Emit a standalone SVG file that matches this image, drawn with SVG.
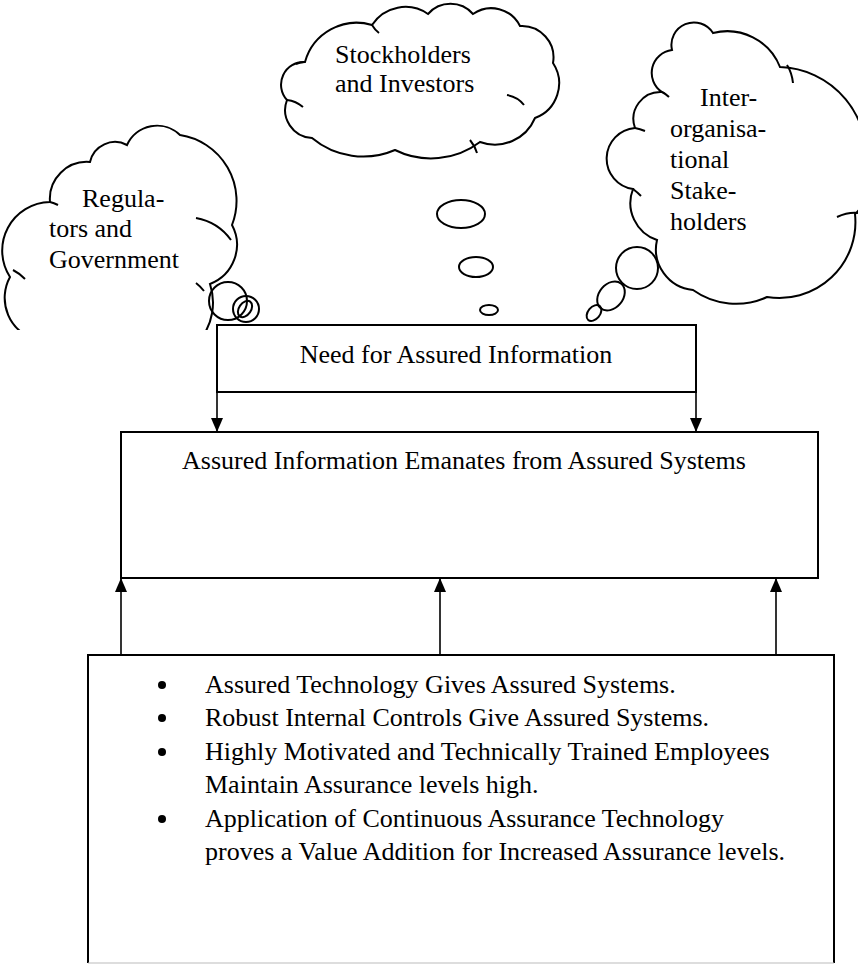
<svg xmlns="http://www.w3.org/2000/svg" width="858" height="965" viewBox="0 0 858 965">
<style>
text{font-family:"Liberation Serif","Times New Roman",serif;font-size:26px;fill:#000}
.cl{fill:none;stroke:#000;stroke-width:2}
.bx{fill:#fff;stroke:#000;stroke-width:2}
.ln{stroke:#000;stroke-width:1.6;fill:none}
</style>
<defs>
<marker id="ah" markerWidth="14" markerHeight="12" refX="14" refY="6" orient="auto" markerUnits="userSpaceOnUse" viewBox="0 0 14 12">
<path d="M0,0 L14,6 L0,12 Z" fill="#000"/>
</marker>
<clipPath id="clipL"><rect x="0" y="0" width="858" height="330"/></clipPath>
</defs>
<rect width="858" height="965" fill="#fff"/>

<g id="cloud-regulators">
<path class="cl" clip-path="url(#clipL)" d="M50,202 A37,37 0 0 1 90,162 A25.6,25.6 0 0 1 127,145 A33,33 0 0 1 180,135 A66.6,66.6 0 0 1 232,225 A42,42 0 0 1 210,284 A60,60 0 0 1 200,340 L37,340 A43.6,43.6 0 0 1 10,277 A48.6,48.6 0 0 1 50,202 Z"/>
<path class="cl" d="M50,202 Q54,203 58,205 M196,218 Q218,222 231,240 M13,270 Q19,273 25,279 M196,283 Q200,286 204,291"/>
<ellipse class="cl" cx="228" cy="301" rx="19" ry="19"/>
<ellipse class="cl" cx="246" cy="309" rx="13" ry="13"/>
<ellipse class="cl" cx="245" cy="309" rx="6" ry="9" transform="rotate(35 245 309)"/>
<text x="82" y="207">Regula-</text>
<text x="49" y="237">tors and</text>
<text x="49" y="268">Government</text>
</g>

<g id="cloud-stockholders">
<path class="cl" d="M305,62 A53.7,53.7 0 0 1 372,25 A39.8,39.8 0 0 1 428,14 A30,30 0 0 1 473,14 A32,32 0 0 1 520,26 A31.6,31.6 0 0 1 553,63 A37,37 0 0 1 535,118 A43.5,43.5 0 0 1 480,142 A81,81 0 0 1 395,150 A80,80 0 0 1 312,138 A28,28 0 0 1 287,100 A22.7,22.7 0 0 1 305,62 Z"/>
<path class="cl" d="M287,100 Q296,101 303,107 M507,95 Q518,97 524,105 M470,140 Q475,146 477,153 M372,25 Q375,30 379,33 M305,62 Q300,62 296,64"/>
<ellipse class="cl" cx="461" cy="214" rx="24" ry="14"/>
<ellipse class="cl" cx="476" cy="267" rx="17" ry="10"/>
<ellipse class="cl" cx="489" cy="310" rx="9" ry="5"/>
<text x="335" y="63">Stockholders</text>
<text x="335" y="92">and Investors</text>
</g>

<g id="cloud-interorganisational">
<path class="cl" d="M662,92 A23,23 0 0 1 672,50 A22.5,22.5 0 0 1 713,33 A57,57 0 0 1 780,67 A89,89 0 0 1 865,170 A40,40 0 0 1 855,214 A76,76 0 0 1 767,297 A74,74 0 0 1 693,290 A41,41 0 0 1 657,240 A39,39 0 0 1 633,189 A30.7,30.7 0 0 1 635,128 A27,27 0 0 1 662,92 Z"/>
<path class="cl" d="M837,217 Q848,212 858,213 M787,65 Q792,73 793,83 M662,92 Q666,94 669,97 M633,189 Q637,192 641,196 M635,128 Q640,129 645,131"/>
<ellipse class="cl" cx="637" cy="268" rx="21" ry="21"/>
<ellipse class="cl" cx="611" cy="296" rx="16" ry="12" transform="rotate(-50 611 296)"/>
<ellipse class="cl" cx="594" cy="313" rx="9" ry="6" transform="rotate(-50 594 313)"/>
<text x="700" y="106">Inter-</text>
<text x="670" y="137">organisa-</text>
<text x="670" y="168">tional</text>
<text x="670" y="199">Stake-</text>
<text x="670" y="230">holders</text>
</g>

<g id="need">
<rect class="bx" x="217" y="325" width="479" height="67"/>
<text x="456" y="363" text-anchor="middle">Need for Assured Information</text>
</g>

<g id="assured-info">
<rect class="bx" x="121" y="432" width="697" height="146"/>
<text x="182" y="469">Assured Information Emanates from Assured Systems</text>
</g>

<g id="factors">
<path class="bx" d="M88,963 L88,655 L834,655 L834,963"/>
<line x1="88" y1="963" x2="834" y2="963" stroke="#bbb" stroke-width="1"/>
<circle cx="162" cy="685" r="4"/>
<circle cx="162" cy="718" r="4"/>
<circle cx="162" cy="752" r="4"/>
<circle cx="162" cy="819" r="4"/>
<text x="205" y="693">Assured Technology Gives Assured Systems.</text>
<text x="205" y="726">Robust Internal Controls Give Assured Systems.</text>
<text x="205" y="760">Highly Motivated and Technically Trained Employees</text>
<text x="205" y="793">Maintain Assurance levels high.</text>
<text x="205" y="827">Application of Continuous Assurance Technology</text>
<text x="205" y="860">proves a Value Addition for Increased Assurance levels.</text>
</g>

<g id="connectors">
<line class="ln" x1="217" y1="392" x2="217" y2="432" marker-end="url(#ah)"/>
<line class="ln" x1="696" y1="392" x2="696" y2="432" marker-end="url(#ah)"/>
<line class="ln" x1="121" y1="655" x2="121" y2="578" marker-end="url(#ah)"/>
<line class="ln" x1="440" y1="655" x2="440" y2="578" marker-end="url(#ah)"/>
<line class="ln" x1="776" y1="655" x2="776" y2="578" marker-end="url(#ah)"/>
</g>
</svg>
